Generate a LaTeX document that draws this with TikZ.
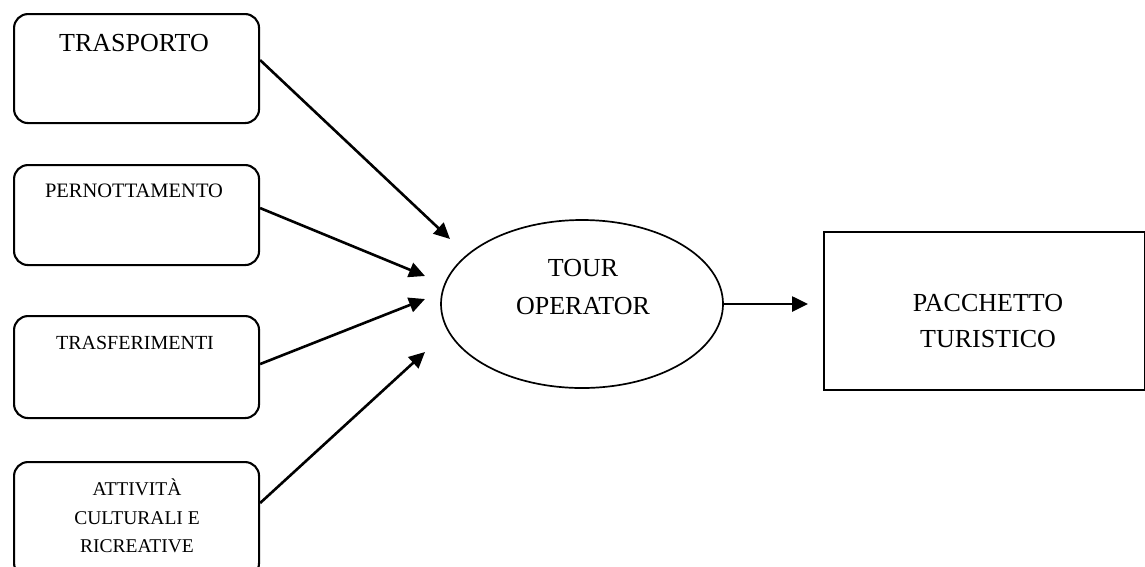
\documentclass[tikz,border=0pt]{standalone}
\usepackage{fontspec}
\setmainfont{Liberation Serif}
\usetikzlibrary{arrows.meta,shapes.geometric}
\begin{document}
\begin{tikzpicture}[x=1pt,y=-1pt,
  srcbox/.style={draw, line width=2.1pt, rounded corners=14pt, minimum width=245pt,
    anchor=north west, inner sep=0pt},
  feed/.style={line width=2.6pt, -{Triangle[length=16pt,width=15pt]}},
  txt/.style={inner sep=0pt, align=center}
]
\useasboundingbox (0,0) rectangle (1145,566);

% input services
\node[srcbox, minimum height=109pt] (trasporto) at (13,13) {};
\node[srcbox, minimum height=100pt] (pernott) at (13,164) {};
\node[srcbox, minimum height=102pt] (trasfer) at (13,315) {};
\node[srcbox, minimum height=115pt] (attivita) at (13,461) {};

\node[txt, anchor=base, font=\fontsize{26}{30}\selectfont] (ttrasporto) at (134,51) {TRASPORTO};
\node[txt, anchor=base, font=\fontsize{20.5}{24}\selectfont] (tpernott) at (134,197) {PERNOTTAMENTO};
\node[txt, anchor=base, font=\fontsize{20}{24}\selectfont] (ttrasfer) at (135,349) {TRASFERIMENTI};
\node[txt, font=\fontsize{19.5}{28.5}\selectfont] (tattivita) at (137,516) {ATTIVITÀ\\CULTURALI E\\RICREATIVE};

% tour operator
\node[draw, ellipse, line width=1.7pt, minimum width=282pt, minimum height=168pt, inner sep=0pt] (tour) at (582,304) {};
\node[txt, font=\fontsize{26}{38}\selectfont] (ttour) at (583,287.5) {TOUR\\OPERATOR};

% resulting package
\node[draw, line width=2pt, minimum width=321pt, minimum height=158pt, anchor=north west, inner sep=0pt] (pacchetto) at (823,231) {};
\node[txt, font=\fontsize{26}{36}\selectfont] (tpacchetto) at (988,321.5) {PACCHETTO\\TURISTICO};

% arrow tips
\coordinate (in1) at (450,239);
\coordinate (in2) at (425,276);
\coordinate (in3) at (425,299);
\coordinate (in4) at (425,352);
\coordinate (out) at (808,304);

\draw[feed] ([yshift=8.5pt]trasporto.east) -- (in1);
\draw[feed] ([yshift=7pt]pernott.east) -- (in2);
\draw[feed] ([yshift=3pt]trasfer.east) -- (in3);
\draw[feed] ([yshift=16.5pt]attivita.east) -- (in4);
\draw[feed] (tour.east) -- (out);
\end{tikzpicture}
\end{document}
